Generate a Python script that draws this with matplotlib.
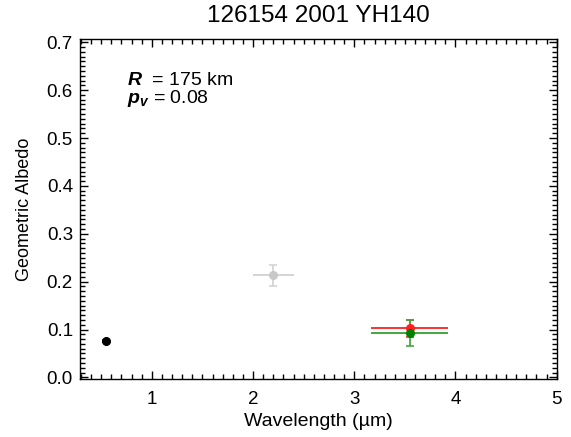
import matplotlib
matplotlib.use('Agg')
from matplotlib import pyplot as plt
from matplotlib.ticker import MultipleLocator

plt.rcParams['font.family'] = ['Liberation Sans', 'DejaVu Sans']
plt.rcParams['mathtext.fontset'] = 'custom'
plt.rcParams['mathtext.rm'] = 'Liberation Sans'
plt.rcParams['mathtext.it'] = 'Liberation Sans:italic'
plt.rcParams['mathtext.bf'] = 'Liberation Sans:bold:italic'

# data
wave = [0.55, 2.2, 3.55, 3.55]
wave_err = [0.04, 0.2, 0.38, 0.38]
albedo = [0.077, 0.213, 0.103, 0.092]
albedo_err = [0.002, 0.022, 0.018, 0.027]
colors = ['black', '#c8c8c8', '#ff2020', '#008000']
line_colors = ['black', '#d4d4d4', '#ff3030', '#40a840']

title = '126154 2001 YH140'
diam_km = 175
pv = 0.08

fig = plt.figure(figsize=(5.71, 4.37), dpi=100)
ax = fig.add_axes([0.140, 0.133, 0.835, 0.778])

for i in range(len(wave)):
    # horizontal bar without caps, vertical bar with caps
    ax.errorbar(wave[i], albedo[i], xerr=wave_err[i], fmt='none',
                ecolor=line_colors[i], elinewidth=1.4, capsize=0)
    ax.errorbar(wave[i], albedo[i], yerr=albedo_err[i],
                fmt='o', color=colors[i], ecolor=line_colors[i],
                markersize=5.5, elinewidth=1.3, capsize=3, capthick=1.2)

ax.set_xlim(0.29, 5.0)
ax.set_ylim(-0.003, 0.707)
ax.xaxis.set_major_locator(MultipleLocator(1))
ax.xaxis.set_minor_locator(MultipleLocator(0.1))
ax.yaxis.set_major_locator(MultipleLocator(0.1))
ax.yaxis.set_minor_locator(MultipleLocator(0.01))
ax.yaxis.set_major_formatter(plt.FuncFormatter(lambda v, p: '%.1f' % v))
ax.tick_params(which='both', direction='in', top=True, right=True,
               labelsize=13.5, width=1)
ax.tick_params(axis='x', pad=9)
ax.tick_params(axis='y', pad=5)
ax.tick_params(which='major', length=6)
ax.tick_params(which='minor', length=3.5)
for s in ax.spines.values():
    s.set_linewidth(1)

ax.set_xlabel('Wavelength (\u00b5m)', fontsize=14, labelpad=3)
ax.set_ylabel('Geometric Albedo', fontsize=13, labelpad=10)
ax.set_title(title, fontsize=17.5, pad=12)

ax.text(0.098, 0.879, r'$\mathbf{R}$  = %d km' % diam_km, transform=ax.transAxes,
        fontsize=14, va='center')
ax.text(0.098, 0.826, r'$\mathbf{p}_{\mathbf{v}}$ = %.2f' % pv, transform=ax.transAxes,
        fontsize=14, va='center')

fig.savefig('out.png', dpi=100)
